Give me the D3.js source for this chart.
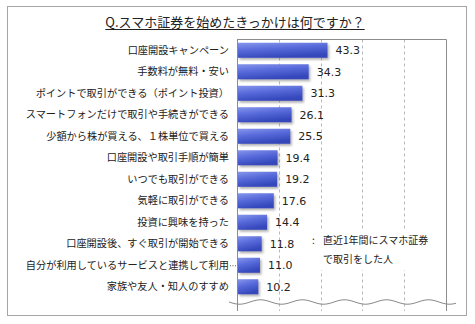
<!DOCTYPE html>
<html>
<head>
<meta charset="utf-8">
<script src="https://cdn.jsdelivr.net/npm/d3@7"></script>
<style>
  html, body { margin: 0; padding: 0; background: #fff; }
  svg { display: block; }
</style>
</head>
<body>
<svg id="chart" width="475" height="324"></svg>
<script>
const title = "Q.スマホ証券を始めたきっかけは何ですか？";
const categories = [
  "口座開設キャンペーン",
  "手数料が無料・安い",
  "ポイントで取引ができる（ポイント投資）",
  "スマートフォンだけで取引や手続きができる",
  "少額から株が買える、１株単位で買える",
  "口座開設や取引手順が簡単",
  "いつでも取引ができる",
  "気軽に取引ができる",
  "投資に興味を持った",
  "口座開設後、すぐ取引が開始できる",
  "自分が利用しているサービスと連携して利用",
  "家族や友人・知人のすすめ"
];
const values = [43.3, 34.3, 31.3, 26.1, 25.5, 19.4, 19.2, 17.6, 14.4, 11.8, 11.0, 10.2];
const xDomain = [0, 100];
const legendLines = ["直近1年間にスマホ証券", "で取引をした人"];

const svg = d3.select("#chart");
const jp = "'Noto Sans CJK JP', 'Noto Sans', sans-serif";

// defs
const defs = svg.append("defs");
const grad = defs.append("linearGradient").attr("id", "barGrad")
  .attr("x1", "0").attr("y1", "0").attr("x2", "0.35").attr("y2", "1");
grad.append("stop").attr("offset", "0%").attr("stop-color", "#8696ec");
grad.append("stop").attr("offset", "45%").attr("stop-color", "#5a6cdb");
grad.append("stop").attr("offset", "100%").attr("stop-color", "#3447bb");
const filt = defs.append("filter").attr("id", "shadow")
  .attr("x", "-10%").attr("y", "-20%").attr("width", "130%").attr("height", "160%");
filt.append("feDropShadow").attr("dx", 1.5).attr("dy", 2).attr("stdDeviation", 1.3)
  .attr("flood-color", "#555").attr("flood-opacity", 0.45);

// outer frame
svg.append("rect").attr("x", 7.5).attr("y", 6.5).attr("width", 459).attr("height", 309)
  .attr("fill", "#fff").attr("stroke", "#a6a6a6").attr("stroke-width", 1);

// title
const t = svg.append("text").attr("x", 235).attr("y", 27)
  .attr("text-anchor", "middle").attr("font-family", jp).attr("font-size", 13)
  .attr("fill", "#222").text(title);
const tb = t.node().getBBox();
svg.append("line").attr("x1", tb.x).attr("x2", tb.x + tb.width)
  .attr("y1", 29.5).attr("y2", 29.5).attr("stroke", "#222").attr("stroke-width", 1);

// scales
const x = d3.scaleLinear().domain(xDomain).range([237, 446]);
const y = d3.scaleBand().domain(categories).range([39.5, 297.5])
  .paddingInner(0.3).paddingOuter(0.15);

const plotTop = 39.5, plotBottom = 311;

// gridlines
const ticks = x.ticks(5).filter(v => v > xDomain[0] && v < xDomain[1]);
svg.append("g").selectAll("line").data(ticks).join("line")
  .attr("x1", d => Math.round(x(d)) + 0.5).attr("x2", d => Math.round(x(d)) + 0.5)
  .attr("y1", plotTop).attr("y2", plotBottom)
  .attr("stroke", "#b8b8b8").attr("stroke-dasharray", "3,3").attr("stroke-width", 1);

// frame lines
svg.append("line").attr("x1", x(xDomain[0])).attr("x2", x(xDomain[1]) + 0.5)
  .attr("y1", plotTop).attr("y2", plotTop).attr("stroke", "#8c8c8c");
svg.append("line").attr("x1", x(xDomain[1]) + 0.5).attr("x2", x(xDomain[1]) + 0.5)
  .attr("y1", plotTop).attr("y2", plotBottom).attr("stroke", "#8c8c8c");
svg.append("line").attr("x1", x(xDomain[0]) + 0.5).attr("x2", x(xDomain[0]) + 0.5)
  .attr("y1", plotTop).attr("y2", plotBottom).attr("stroke", "#8c8c8c");

// legend background + text
svg.append("rect").attr("x", 311).attr("y", 230).attr("width", 124).attr("height", 40).attr("fill", "#fff");
svg.append("text").attr("x", 312).attr("y", 244)
  .attr("font-family", jp).attr("font-size", 10).attr("fill", "#222").text(":");
svg.append("g").selectAll("text").data(legendLines).join("text")
  .attr("x", 323)
  .attr("y", (d, i) => 244 + i * 19)
  .attr("font-family", jp).attr("font-size", 10).attr("fill", "#222")
  .text(d => d);

// bars
svg.append("g").selectAll("rect").data(values).join("rect")
  .attr("x", x(0) + 1)
  .attr("y", (d, i) => y(categories[i]))
  .attr("width", d => x(d) - x(0) - 1)
  .attr("height", y.bandwidth())
  .attr("fill", "url(#barGrad)")
  .attr("filter", "url(#shadow)");

// value labels
svg.append("g").selectAll("text").data(values).join("text")
  .attr("x", d => x(d) + 8)
  .attr("y", (d, i) => y(categories[i]) + y.bandwidth() / 2)
  .attr("dy", "0.36em")
  .attr("font-family", "'DejaVu Sans', Verdana, sans-serif")
  .attr("font-size", 11).attr("fill", "#222")
  .text(d => d.toFixed(1));

// category labels
svg.append("g").selectAll("text").data(categories).join("text")
  .attr("x", 229)
  .attr("y", d => y(d) + y.bandwidth() / 2)
  .attr("dy", "0.35em")
  .attr("text-anchor", "end")
  .attr("font-family", jp).attr("font-size", 10.2).attr("fill", "#222")
  .text(d => d);

// leader for long label
const longCat = categories[10];
svg.append("line").attr("x1", 230).attr("x2", 237)
  .attr("y1", y(longCat) + y.bandwidth() / 2 + 0.5).attr("y2", y(longCat) + y.bandwidth() / 2 + 0.5)
  .attr("stroke", "#555").attr("stroke-dasharray", "1,1.5");

// wavy break line
const waveY = 302;
const wavePts = d3.range(229, 457, 1).map(px => [px, waveY + 2.2 * Math.sin((px - 229) / 42 * 2 * Math.PI)]);
svg.append("path").attr("d", d3.line()(wavePts))
  .attr("fill", "none").attr("stroke", "#8a8a8a").attr("stroke-width", 1);
</script>
</body>
</html>
